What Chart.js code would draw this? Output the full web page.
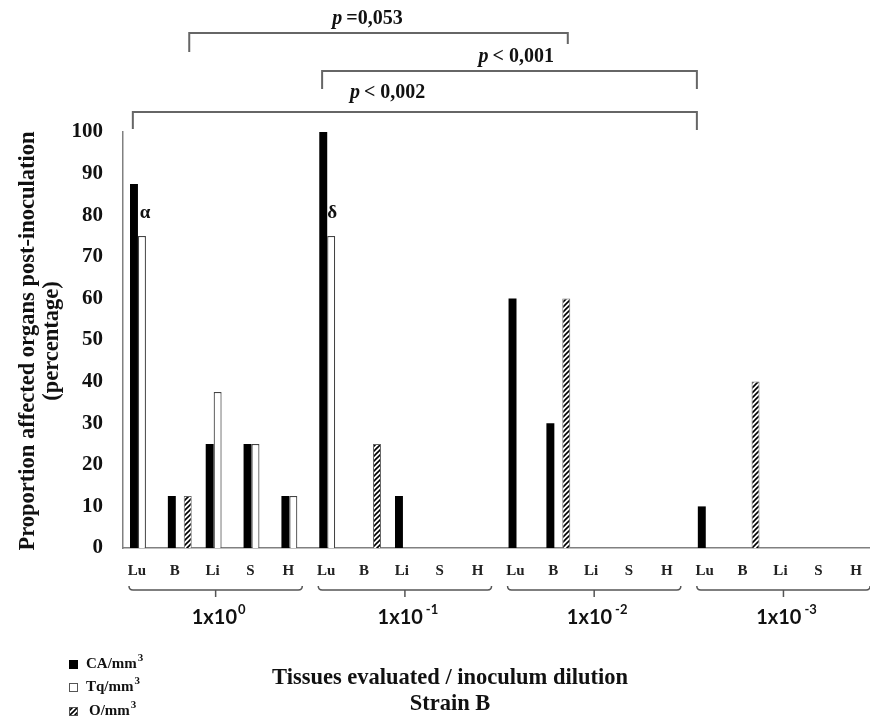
<!DOCTYPE html>
<html>
<head>
<meta charset="utf-8">
<script src="https://cdn.jsdelivr.net/npm/chart.js@4"></script>
<style>
  html, body { margin: 0; padding: 0; background: #fff; overflow: hidden; }
</style>
</head>
<body>
<canvas id="myChart" width="881" height="726"></canvas>
<script>
// tissues per dilution group
var categories = ['Lu', 'B', 'Li', 'S', 'H', 'Lu', 'B', 'Li', 'S', 'H',
                  'Lu', 'B', 'Li', 'S', 'H', 'Lu', 'B', 'Li', 'S', 'H'];
var dilutionExp = ['0', '-1', '-2', '-3'];

var caValues = [87.5, 12.5, 25, 25, 12.5,  100, 0, 12.5, 0, 0,  60, 30, 0, 0, 0,  10, 0, 0, 0, 0];
var tqValues = [75, 0, 37.5, 25, 12.5,     75, 0, 0, 0, 0,      0, 0, 0, 0, 0,    0, 0, 0, 0, 0];
var oValues  = [0, 12.5, 0, 0, 0,          0, 25, 0, 0, 0,      0, 60, 0, 0, 0,   0, 40, 0, 0, 0];

var seriesNames = ['CA/mm', 'Tq/mm', 'O/mm'];

// significance brackets (category units)
var pLabels = ['=0,053', '< 0,001', '< 0,002'];
var brackets = [
  { from: 1.25, to: 11.25, top: 33, dropL: 19, dropR: 11, lx: 5.96, ly: 19 },
  { from: 4.76, to: 14.66, top: 71, dropL: 18, dropR: 18, lx: 9.89, ly: 57 },
  { from: -0.24, to: 14.66, top: 112, dropL: 17, dropR: 18, lx: 6.49, ly: 93 }
];

var serif = '"Liberation Serif", "Times New Roman", serif';

function hatch() {
  var c = document.createElement('canvas');
  c.width = 5; c.height = 5;
  var g = c.getContext('2d');
  g.fillStyle = '#fff';
  g.fillRect(0, 0, 5, 5);
  g.strokeStyle = '#000';
  g.lineWidth = 1.6;
  g.beginPath();
  g.moveTo(0, 5); g.lineTo(5, 0);
  g.moveTo(-1, 1); g.lineTo(1, -1);
  g.moveTo(4, 6); g.lineTo(6, 4);
  g.stroke();
  return g.createPattern(c, 'repeat');
}

var ctx = document.getElementById('myChart');
var hatchFill = hatch();

function textSup(c, base, sup, x, y, font, supFont, rise, gap) {
  c.font = font;
  var w1 = c.measureText(base).width;
  c.font = supFont;
  var w2 = c.measureText(sup).width;
  var start = x - (w1 + gap + w2) / 2;
  c.textAlign = 'left';
  c.font = font;
  c.fillText(base, start, y);
  c.font = supFont;
  c.fillText(sup, start + w1 + gap, y - rise);
}

var extras = {
  id: 'extras',
  afterDraw: function(chart) {
    var c = chart.ctx;
    var xs = chart.scales.x, ys = chart.scales.y;
    c.save();
    c.fillStyle = '#111';
    c.textBaseline = 'middle';

    // brackets + p values
    c.strokeStyle = '#666';
    c.lineWidth = 2;
    brackets.forEach(function(b, i) {
      var x1 = xs.getPixelForValue(b.from), x2 = xs.getPixelForValue(b.to);
      c.beginPath();
      c.moveTo(x1, b.top + b.dropL);
      c.lineTo(x1, b.top);
      c.lineTo(x2, b.top);
      c.lineTo(x2, b.top + b.dropR);
      c.stroke();
      var lx = xs.getPixelForValue(b.lx);
      c.font = 'italic bold 20px ' + serif;
      var wp = c.measureText('p').width;
      c.font = 'bold 20px ' + serif;
      var wr = c.measureText(pLabels[i]).width;
      var s = lx - (wp + 4 + wr) / 2;
      c.textAlign = 'left';
      c.font = 'italic bold 20px ' + serif;
      c.fillText('p', s, b.ly);
      c.font = 'bold 20px ' + serif;
      c.fillText(pLabels[i], s + wp + 4, b.ly);
    });

    // alpha / delta marks
    c.textAlign = 'center';
    c.font = 'bold 19px ' + serif;
    c.fillText('\u03b1', xs.getPixelForValue(0) + 3, ys.getPixelForValue(tqValues[0]) - 23);
    c.fillText('\u03b4', xs.getPixelForValue(5) + 1, ys.getPixelForValue(tqValues[5]) - 23);

    // group braces and dilution labels
    c.strokeStyle = '#555';
    c.lineWidth = 1.5;
    dilutionExp.forEach(function(e, g) {
      var a = xs.getPixelForValue(g * 5 - 0.5) + 6;
      var b = xs.getPixelForValue(g * 5 + 4.5) - 10;
      var m = (a + b) / 2, y = 590;
      c.beginPath();
      c.moveTo(a, y - 4);
      c.quadraticCurveTo(a, y, a + 4, y);
      c.lineTo(b - 4, y);
      c.quadraticCurveTo(b, y, b, y - 4);
      c.moveTo(m, y);
      c.lineTo(m, y + 7);
      c.stroke();
      c.fillStyle = '#111';
      textSup(c, '1x10', e, m + 3, 618, 'bold 20px Lato', 'bold 13px Lato', 8, e === '0' ? 1 : 3);
    });

    // y axis title
    c.save();
    c.translate(28, 341);
    c.rotate(-Math.PI / 2);
    c.textAlign = 'center';
    c.font = 'bold 22.5px ' + serif;
    c.fillText('Proportion affected organs post-inoculation', 0, 0);
    c.fillText('(percentage)', 0, 24);
    c.restore();

    // x axis title
    c.textAlign = 'center';
    c.font = 'bold 22.5px ' + serif;
    c.fillText('Tissues evaluated / inoculum dilution', 450, 678);
    c.fillText('Strain B', 450, 704);

    // legend
    var fills = ['#000', '#fff', hatchFill];
    var rows = [664, 687, 711];
    fills.forEach(function(f, i) {
      c.fillStyle = f;
      c.fillRect(69, rows[i] - 4, 9, 9);
      if (i > 0) {
        c.strokeStyle = '#555';
        c.lineWidth = 1;
        c.strokeRect(69.5, rows[i] - 3.5, 8, 8);
      }
      c.fillStyle = '#111';
      c.textAlign = 'left';
      c.font = 'bold 15px ' + serif;
      var x0 = i === 2 ? 89 : 86;
      c.fillText(seriesNames[i], x0, rows[i]);
      var w = c.measureText(seriesNames[i]).width;
      c.font = 'bold 11px ' + serif;
      c.fillText('3', x0 + w + 1, rows[i] - 6);
    });
    c.restore();
  }
};

var myChart = new Chart(ctx, {
  type: 'bar',
  data: {
    labels: categories,
    datasets: [
      { label: 'CA/mm3', data: caValues, backgroundColor: '#000', borderColor: '#222', borderWidth: 0 },
      { label: 'Tq/mm3', data: tqValues, backgroundColor: '#fff', borderColor: '#444', borderWidth: 1.2 },
      { label: 'O/mm3', data: oValues, backgroundColor: hatchFill, borderColor: '#666', borderWidth: 1 }
    ]
  },
  options: {
    responsive: false,
    animation: false,
    devicePixelRatio: 1,
    layout: { padding: { top: 132, left: 0, right: 0, bottom: 0 } },
    plugins: { legend: { display: false }, tooltip: { enabled: false } },
    datasets: { bar: { categoryPercentage: 0.63, barPercentage: 1 } },
    scales: {
      x: {
        grid: { display: false, drawTicks: false },
        border: { color: '#808080', width: 1.5 },
        ticks: { color: '#222', padding: 14, labelOffset: -5, maxRotation: 0, autoSkip: false,
                 font: { family: serif, size: 15, weight: 'bold' } },
        afterFit: function(s) { s.height = 726 - 548; }
      },
      y: {
        min: 0, max: 100,
        grid: { display: false, drawTicks: false },
        border: { color: '#808080', width: 1.5 },
        ticks: { stepSize: 10, color: '#111', padding: 20,
                 font: { family: serif, size: 21, weight: 'bold' } },
        afterFit: function(s) { s.width = 123; }
      }
    }
  },
  plugins: [extras]
});
</script>
</body>
</html>
